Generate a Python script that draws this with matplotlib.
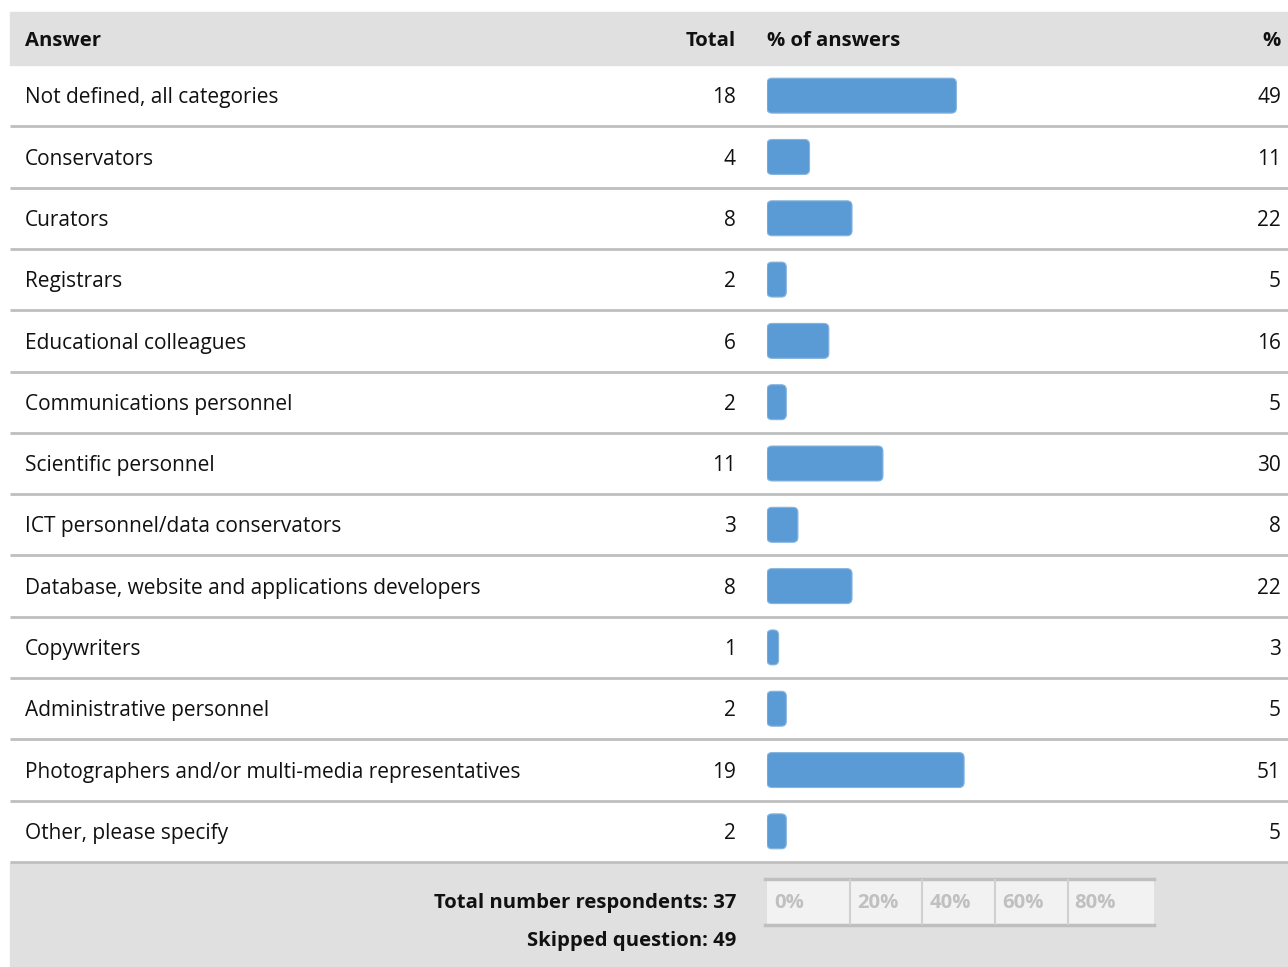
import matplotlib
matplotlib.use("Agg")
import matplotlib.pyplot as plt
from matplotlib.patches import Rectangle, FancyBboxPatch
from matplotlib import transforms

categories = [
    "Not defined, all categories",
    "Conservators",
    "Curators",
    "Registrars",
    "Educational colleagues",
    "Communications personnel",
    "Scientific personnel",
    "ICT personnel/data conservators",
    "Database, website and applications developers",
    "Copywriters",
    "Administrative personnel",
    "Photographers and/or multi-media representatives",
    "Other, please specify",
]
totals = [18, 4, 8, 2, 6, 2, 11, 3, 8, 1, 2, 19, 2]
percents = [49, 11, 22, 5, 16, 5, 30, 8, 22, 3, 5, 51, 5]
header = ["Answer", "Total", "% of answers", "%"]
footer_lines = ["Total number respondents: 37", "Skipped question: 49"]
scale_labels = ["0%", "20%", "40%", "60%", "80%"]
scale_edges = [0, 21.5, 40.2, 59.1, 77.8, 100]

W, H = 1288, 967
DPI = 100
FONT = "Open Sans"
FS = 15.0
FSB = 14.6
BAR_COLOR = "#5b9bd5"
GRID = "#bfbfbf"
BAND = "#e0e0e0"
TXT = "#111111"

fig = plt.figure(figsize=(W / DPI, H / DPI), dpi=DPI)
fig.patch.set_facecolor("white")

# background axes in pixel coordinates (layout only)
bg = fig.add_axes([0, 0, 1, 1])
bg.set_xlim(0, W)
bg.set_ylim(H, 0)
bg.axis("off")

top_rows, bot_rows = 65, 862
bar_x0, bar_x1 = 767, 1153.5
n = len(categories)

# bar axes: x in percent, y in rows
ax = fig.add_axes([bar_x0 / W, (H - bot_rows) / H, (bar_x1 - bar_x0) / W, (bot_rows - top_rows) / H])
ax.set_xlim(0, 100)
ax.set_ylim(n - 0.5, -0.5)
ax.axis("off")
ax.patch.set_alpha(0)

# header band
bg.add_patch(Rectangle((10, 12), W - 10, top_rows - 12, color=BAND, zorder=0))
# footer band
bg.add_patch(Rectangle((10, bot_rows), W - 10, H - bot_rows, color=BAND, zorder=0))

hy = (12 + top_rows) / 2 + 2
bg.text(25, hy, header[0], ha="left", va="center", fontsize=FSB, fontweight="bold", family=FONT, color=TXT)
bg.text(736, hy, header[1], ha="right", va="center", fontsize=FSB, fontweight="bold", family=FONT, color=TXT)
bg.text(767, hy, header[2], ha="left", va="center", fontsize=FSB, fontweight="bold", family=FONT, color=TXT)
bg.text(1281, hy, header[3], ha="right", va="center", fontsize=FSB, fontweight="bold", family=FONT, color=TXT)

# blended transform: x in pixels, y in rows
tr = transforms.blended_transform_factory(bg.transData, ax.transData)

ypos = list(range(n))
bars = ax.barh(ypos, percents, height=0.57, color=BAR_COLOR, left=0)
px_per_x = (bar_x1 - bar_x0) / 100.0
px_per_y = (bot_rows - top_rows) / n
for b in bars:
    x, y = b.get_x(), b.get_y()
    w, h = b.get_width(), b.get_height()
    b.set_visible(False)
    r = 5.0 / px_per_x
    ax.add_patch(FancyBboxPatch((x, y), w, h,
                                boxstyle=f"round,pad=0,rounding_size={r}",
                                mutation_aspect=px_per_x / px_per_y,
                                facecolor=BAR_COLOR, edgecolor="#86b5e0", linewidth=0.8))

dy = 0.035
for i, (c, t, p) in enumerate(zip(categories, totals, percents)):
    bg.text(25, i + dy, c, transform=tr, ha="left", va="center", fontsize=FS, family=FONT, color=TXT)
    bg.text(736, i + dy, str(t), transform=tr, ha="right", va="center", fontsize=FS, family=FONT, color=TXT)
    bg.text(1281, i + dy, str(p), transform=tr, ha="right", va="center", fontsize=FS, family=FONT, color=TXT)
    # separator below each row
    bg.plot([10, W], [i + 0.5, i + 0.5], transform=tr, color=GRID, lw=2, solid_capstyle="butt")

# footer text
bg.text(736, 903, footer_lines[0], ha="right", va="center", fontsize=FSB, fontweight="bold", family=FONT, color=TXT)
bg.text(736, 941, footer_lines[1], ha="right", va="center", fontsize=FSB, fontweight="bold", family=FONT, color=TXT)

# footer percentage scale
sc = fig.add_axes([bar_x0 / W, (H - 925) / H, (bar_x1 - bar_x0) / W, (925 - 879) / H])
sc.set_xlim(0, 100)
sc.set_ylim(0, 1)
sc.axis("off")
sc.add_patch(Rectangle((0, 0), 100, 1, facecolor="#f2f2f2", edgecolor="none"))
sc.plot([-0.5, 100], [1, 1], color=GRID, lw=2.5, clip_on=False)
sc.plot([-0.5, 100], [0, 0], color=GRID, lw=2.5, clip_on=False)
for e in scale_edges[1:-1]:
    sc.plot([e, e], [0, 1], color="#d0d0d0", lw=1.5)
for lab, e in zip(scale_labels, scale_edges[:-1]):
    sc.text(e + 1.8, 0.47, lab, ha="left", va="center", fontsize=FSB, fontweight="bold", family=FONT, color="#c0c0c0")

fig.savefig("out.png", dpi=DPI)
